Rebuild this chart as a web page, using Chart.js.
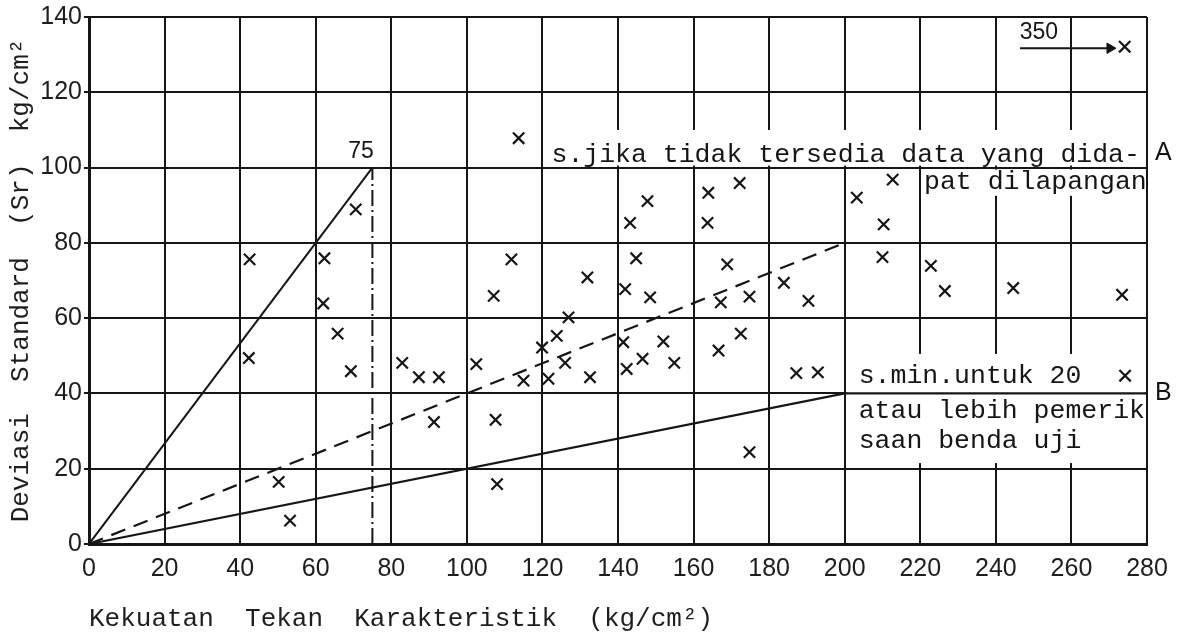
<!DOCTYPE html>
<html>
<head>
<meta charset="utf-8">
<script src="https://cdn.jsdelivr.net/npm/chart.js@4.4.1/dist/chart.umd.min.js"></script>
<style>
html,body{margin:0;padding:0;background:#ffffff;}
#wrap{width:1178px;height:637px;position:relative;}
</style>
</head>
<body>
<div id="wrap"><canvas id="c" width="1178" height="637"></canvas></div>
<script>
// ---- tick labels ----
const xTicks = [0, 20, 40, 60, 80, 100, 120, 140, 160, 180, 200, 220, 240, 260, 280];
const yTicks = [0, 20, 40, 60, 80, 100, 120, 140];

// ---- observed samples: characteristic strength (kg/cm2) vs standard deviation (kg/cm2) ----
const sampleStrength = [
  42.5, 42.3, 62.3, 62.0, 65.8, 69.3, 70.6, 50.2, 53.2,
  82.9, 87.3, 92.6, 91.3, 102.5, 107.1, 111.8, 113.7, 107.6, 108.0, 115.0, 119.9, 121.6, 123.8, 126.0, 126.9, 131.9, 132.6,
  147.8, 143.2, 163.9, 172.2, 163.7, 144.8, 141.9, 148.5, 168.9, 167.2, 174.8, 183.9, 190.4, 141.4, 152.0, 142.3, 146.5, 154.9, 166.6, 172.5, 187.2, 192.9, 174.8,
  203.2, 212.7, 210.3, 210.0, 222.8, 226.5, 244.6, 273.4, 274.2, 274.1
];
const sampleDeviation = [
  75.6, 49.4, 75.9, 63.9, 55.9, 45.9, 88.9, 16.5, 6.2,
  48.1, 44.3, 44.3, 32.4, 47.8, 65.9, 75.6, 107.8, 33.0, 15.9, 43.4, 52.2, 43.9, 55.3, 48.1, 60.2, 70.8, 44.3,
  91.1, 85.3, 93.3, 95.9, 85.3, 75.9, 67.7, 65.5, 74.3, 64.2, 65.7, 69.4, 64.6, 53.6, 53.8, 46.5, 49.2, 48.1, 51.4, 55.9, 45.4, 45.6, 24.4,
  92.0, 96.8, 84.9, 76.2, 73.9, 67.2, 68.0, 66.2, 44.7, 132.1
];

// ---- reference lines ----
const steepLineX = [0, 75];      const steepLineY = [0, 100];
const limit75X   = [75, 75];     const limit75Y   = [0, 100];
const dashedLineX = [0, 200];    const dashedLineY = [0, 80];
const minLineX   = [0, 200, 280]; const minLineY  = [0, 40, 40];
const arrowX     = [246.4, 270.2]; const arrowY   = [131.7, 131.7];

const zip = (xs, ys) => xs.map((v, i) => ({x: v, y: ys[i]}));

const INK = '#161616';
const MONO = '"Liberation Mono", "DejaVu Sans Mono", monospace';
const SANS = '"Liberation Sans", "DejaVu Sans", sans-serif';

// white areas behind typed notes (they interrupt the grid)
const noteAreas = [
  {x0: 120, x1: 280, y0: 100, y1: 110, inset: {l: 2, r: 2, t: 0, b: 2}},
  {x0: 220, x1: 280, y0: 92.5, y1: 100, inset: {l: 2, r: 2, t: 2, b: 0}},
  {x0: 200, x1: 280, y0: 21.5, y1: 50.5, inset: {l: 2, r: 2, t: 0, b: 0}}
];
const typedNotes = [
  {text: 's.jika tidak tersedia data yang dida-', x: 122.4, y: 101.4},
  {text: 'pat dilapangan', x: 221.0, y: 94.3},
  {text: 's.min.untuk 20', x: 203.7, y: 42.9},
  {text: 'atau lebih pemerik', x: 203.7, y: 33.6},
  {text: 'saan benda uji', x: 203.7, y: 25.4}
];
const handNotes = [
  {text: '75', x: 72, y: 104.3, size: 23, align: 'center'},
  {text: '350', x: 251.4, y: 135.8, size: 23, align: 'center'}
];
const sideNotes = [
  {text: 'A', y: 103.8},
  {text: 'B', y: 40.2}
];

const notesPlugin = {
  id: 'notes',
  beforeDatasetsDraw(chart) {
    const {ctx, scales: {x, y}} = chart;
    ctx.save();
    ctx.fillStyle = '#ffffff';
    noteAreas.forEach(a => {
      const l = x.getPixelForValue(a.x0) + a.inset.l;
      const r = x.getPixelForValue(a.x1) - a.inset.r;
      const t = y.getPixelForValue(a.y1) + a.inset.t;
      const b = y.getPixelForValue(a.y0) - a.inset.b;
      ctx.fillRect(l, t, r - l, b - t);
    });
    ctx.restore();
  },
  afterDatasetsDraw(chart) {
    const {ctx, scales: {x, y}, chartArea} = chart;
    ctx.save();
    ctx.fillStyle = INK;
    ctx.textBaseline = 'alphabetic';
    ctx.textAlign = 'left';
    ctx.font = '26.5px ' + MONO;
    typedNotes.forEach(n => {
      ctx.fillText(n.text, x.getPixelForValue(n.x), y.getPixelForValue(n.y));
    });
    ctx.textBaseline = 'middle';
    handNotes.forEach(n => {
      ctx.font = n.size + 'px ' + SANS;
      ctx.textAlign = n.align;
      ctx.fillText(n.text, x.getPixelForValue(n.x), y.getPixelForValue(n.y));
    });
    ctx.font = '25px ' + SANS;
    ctx.textAlign = 'left';
    sideNotes.forEach(n => {
      ctx.fillText(n.text, chartArea.right + 8, y.getPixelForValue(n.y));
    });
    ctx.restore();
  }
};

const lineDs = (data, extra) => Object.assign({
  type: 'scatter', data, showLine: true, borderColor: INK, backgroundColor: INK,
  borderWidth: 2, pointRadius: 0, fill: false, tension: 0
}, extra || {});

new Chart(document.getElementById('c'), {
  type: 'scatter',
  data: {
    datasets: [
      lineDs(zip(steepLineX, steepLineY)),
      lineDs(zip(limit75X, limit75Y), {borderDash: [16, 4, 2, 4], borderWidth: 2}),
      lineDs(zip(dashedLineX, dashedLineY), {borderDash: [15, 9], borderWidth: 2.2}),
      lineDs(zip(minLineX, minLineY), {borderWidth: 2.2}),
      lineDs(zip(arrowX, arrowY), {
        borderWidth: 2, pointRadius: [0, 6], pointStyle: 'triangle', pointRotation: 90,
        pointBorderWidth: 1
      }),
      {
        type: 'scatter',
        data: zip(sampleStrength, sampleDeviation),
        pointStyle: 'crossRot', pointRadius: 8, pointBorderWidth: 2.2,
        borderColor: INK, backgroundColor: INK, showLine: false
      }
    ]
  },
  options: {
    responsive: false,
    animation: false,
    events: [],
    layout: {padding: {top: 15, right: 31, left: 0, bottom: 0}},
    plugins: {legend: {display: false}, tooltip: {enabled: false}},
    scales: {
      x: {
        type: 'linear', min: 0, max: 280,
        afterBuildTicks: s => { s.ticks = xTicks.map(v => ({value: v})); },
        afterFit: s => { s.height = 93; },
        grid: {color: INK, lineWidth: 2, drawTicks: false},
        border: {color: INK, width: 3},
        ticks: {font: {family: SANS, size: 25}, color: '#1e1e1e', padding: 10, maxRotation: 0, autoSkip: false},
        title: {
          display: true, text: 'Kekuatan  Tekan  Karakteristik  (kg/cm²)', align: 'start',
          font: {family: MONO, size: 26}, color: '#1e1e1e', padding: {top: 0, bottom: 2}
        }
      },
      y: {
        type: 'linear', min: 0, max: 140,
        afterBuildTicks: s => { s.ticks = yTicks.map(v => ({value: v})); },
        afterFit: s => { s.width = 89; },
        grid: {color: INK, lineWidth: 2, drawTicks: true, tickLength: 5},
        border: {color: INK, width: 3},
        ticks: {font: {family: SANS, size: 25}, color: '#1e1e1e', padding: 2, autoSkip: false},
        title: {
          display: true, text: 'Deviasi  Standard  (Sr)  kg/cm²',
          font: {family: MONO, size: 26}, color: '#1e1e1e', padding: {top: 6, bottom: 0}
        }
      }
    }
  },
  plugins: [notesPlugin]
});
</script>
</body>
</html>
